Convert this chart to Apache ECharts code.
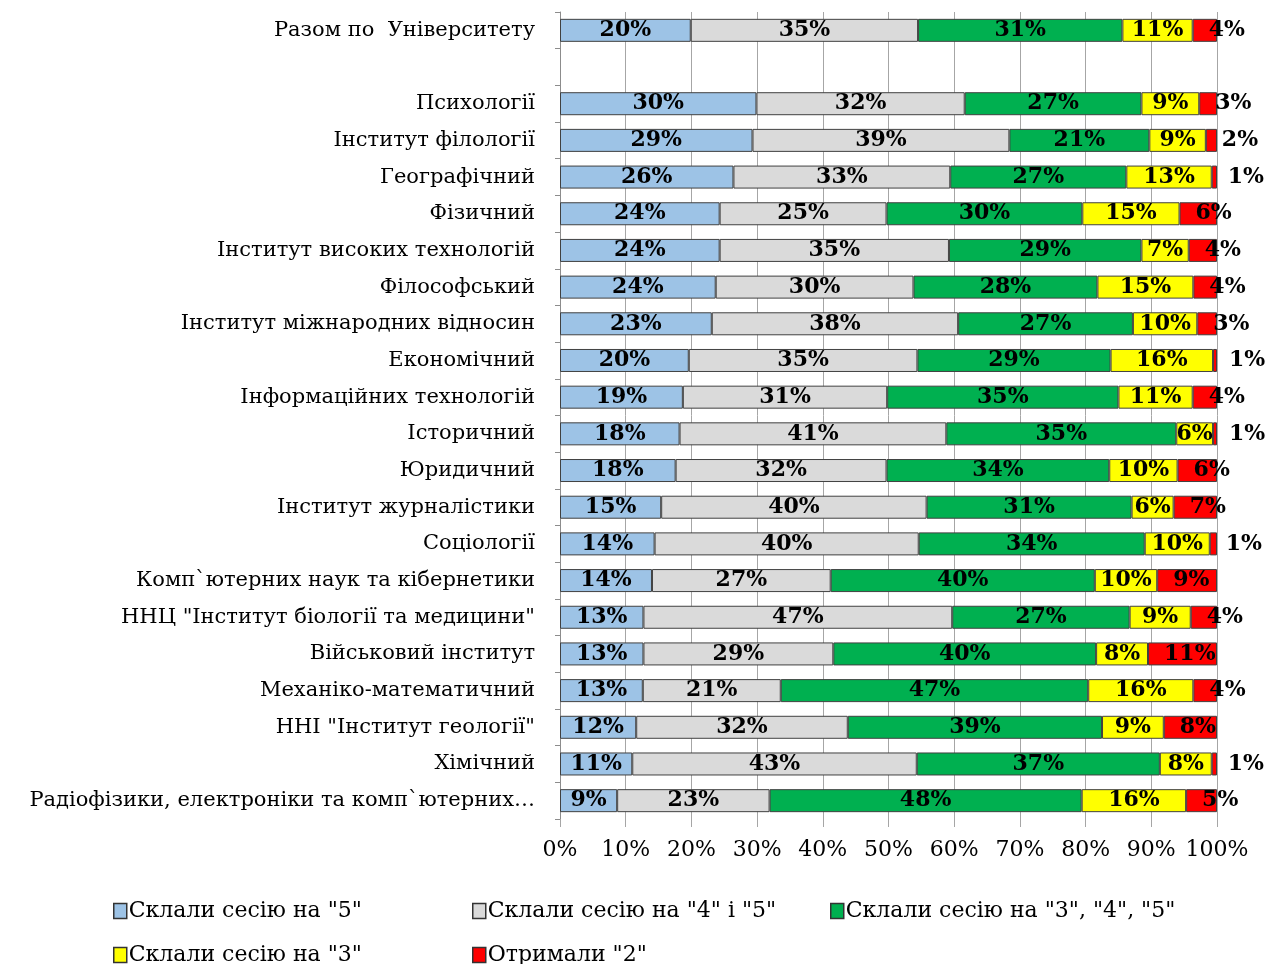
<!DOCTYPE html>
<html>
<head>
<meta charset="utf-8">
<script src="https://cdn.jsdelivr.net/npm/echarts@6/dist/echarts.min.js"></script>
<style>
html,body{margin:0;padding:0;background:#fff;}
#chart{width:1281px;height:964px;}
</style>
</head>
<body>
<div id="chart"></div>
<script>
const categories = [
  'Разом по  Університету',
  '',
  'Психології',
  'Інститут філології',
  'Географічний',
  'Фізичний',
  'Інститут високих технологій',
  'Філософський',
  'Інститут міжнародних відносин',
  'Економічний',
  'Інформаційних технологій',
  'Історичний',
  'Юридичний',
  'Інститут журналістики',
  'Соціології',
  'Комп`ютерних наук та кібернетики',
  'ННЦ "Інститут біології та медицини"',
  'Військовий інститут',
  'Механіко-математичний',
  'ННІ "Інститут геології"',
  'Хімічний',
  'Радіофізики, електроніки та комп`ютерних…'
];
const seriesNames = [
  'Склали сесію на "5"',
  'Склали сесію на "4" і "5"',
  'Склали сесію на "3", "4", "5"',
  'Склали сесію на "3"',
  'Отримали "2"'
];
const grade5   = [19.9, null, 29.9, 29.3, 26.4, 24.3, 24.3, 23.7, 23.1, 19.6, 18.7, 18.2, 17.6, 15.4, 14.4, 14.0, 12.7, 12.7, 12.6, 11.6, 11.0, 8.7];
const grade45  = [34.6, null, 31.7, 39.1, 33.0, 25.4, 34.9, 30.1, 37.5, 34.8, 31.1, 40.6, 32.1, 40.4, 40.2, 27.2, 47.0, 28.9, 21.0, 32.2, 43.3, 23.2];
const grade345 = [31.1, null, 26.9, 21.3, 26.8, 29.8, 29.3, 28.0, 26.6, 29.4, 35.2, 35.0, 33.9, 31.2, 34.4, 40.2, 27.0, 40.0, 46.8, 38.7, 37.0, 47.5];
const grade3   = [10.7, null,  8.8,  8.6, 13.0, 14.8,  7.2, 14.6,  9.8, 15.6, 11.3,  5.6, 10.4,  6.4,  9.9,  9.5,  9.3,  7.9, 16.0,  9.4,  7.9, 15.9];
const grade2   = [ 3.7, null,  2.7,  1.7,  0.8,  5.7,  4.3,  3.6,  3.0,  0.6,  3.7,  0.6,  6.0,  6.6,  1.1,  9.1,  4.0, 10.5,  3.6,  8.1,  0.8,  4.7];
const xTicks = [0, 10, 20, 30, 40, 50, 60, 70, 80, 90, 100];

const colors = ['#9DC3E6', '#DADADA', '#00B050', '#FFFF00', '#FF0000'];
const FONT = 'DejaVu Serif';
const values = [grade5, grade45, grade345, grade3, grade2];

const fmt = p => (p.value == null ? '' : Math.round(p.value) + '%');

const series = values.map((arr, i) => ({
  name: seriesNames[i],
  type: 'bar',
  stack: 'total',
  barWidth: 23,
  data: arr,
  itemStyle: { color: colors[i], borderColor: '#404040', borderWidth: 1 },
  label: i === 4 ? {
    show: true, position: 'insideLeft', distance: 0, offset: [16, 0],
    formatter: fmt, color: '#000', fontFamily: FONT, fontWeight: 'bold', fontSize: 22
  } : {
    show: true, position: 'inside', formatter: fmt, color: '#000',
    fontFamily: FONT, fontWeight: 'bold', fontSize: 22
  },
  emphasis: { disabled: true }
}));

const legendPos = [[108, 895], [467, 895], [825, 895], [108, 939], [467, 939]];
const legends = seriesNames.map((n, i) => ({
  data: [n],
  left: legendPos[i][0], top: legendPos[i][1],
  itemWidth: 13, itemHeight: 15, itemGap: 0,
  icon: 'rect',
  itemStyle: { borderColor: '#333', borderWidth: 1.5 },
  textStyle: { color: '#000', fontFamily: FONT, fontSize: 22, padding: [0, 0, 0, -3] }
}));

const chart = echarts.init(document.getElementById('chart'));
chart.setOption({
  animation: false,
  backgroundColor: '#fff',
  grid: { left: 560, right: 64, top: 12, bottom: 145, containLabel: false },
  xAxis: {
    type: 'value', min: 0, max: 100, interval: 10,
    axisLine: { show: false },
    axisTick: { show: true, length: 8, lineStyle: { color: '#A6A6A6' } },
    splitLine: { show: true, lineStyle: { color: '#A6A6A6', width: 1 } },
    axisLabel: {
      margin: 20, color: '#000', fontFamily: FONT, fontSize: 22,
      formatter: v => xTicks.includes(v) ? v + '%' : ''
    }
  },
  yAxis: {
    type: 'category', inverse: true, data: categories,
    axisLine: { show: true, lineStyle: { color: '#8C8C8C' } },
    axisTick: { show: true, length: 5, lineStyle: { color: '#8C8C8C' } },
    axisLabel: { margin: 25, color: '#000', fontFamily: FONT, fontSize: 21 }
  },
  legend: legends,
  series
});
</script>
</body>
</html>
